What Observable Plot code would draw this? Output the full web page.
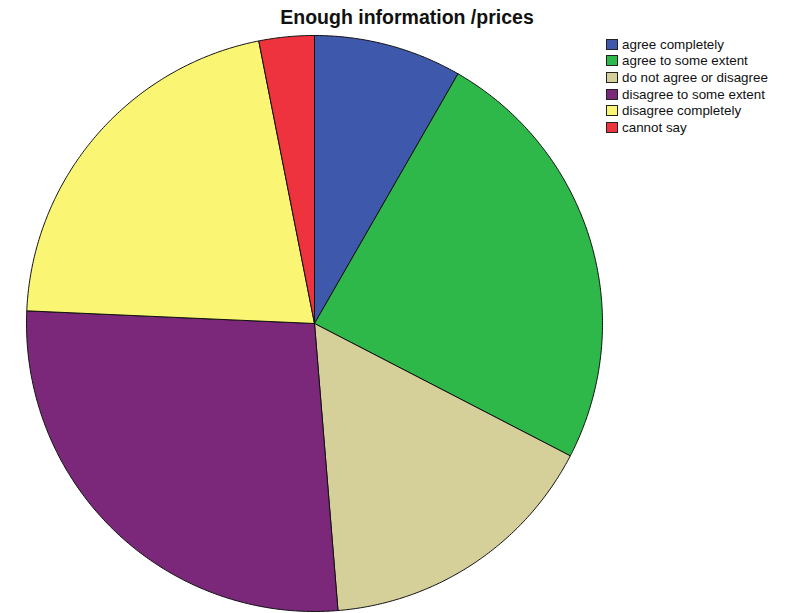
<!DOCTYPE html>
<html>
<head>
<meta charset="utf-8">
<script src="https://cdn.jsdelivr.net/npm/d3@7"></script>
<script src="https://cdn.jsdelivr.net/npm/@observablehq/plot@0.6"></script>
<style>
  html, body { margin: 0; padding: 0; background: #fff; }
  #wrap { position: relative; width: 792px; height: 613px; overflow: hidden; font-family: "Liberation Sans", Arial, sans-serif; }
  #title { position: absolute; left: 0; width: 814px; top: 6px; text-align: center; font-weight: bold; font-size: 19.5px; color: #111; }
  #legend { position: absolute; left: 606px; top: 36px; font-size: 13.4px; color: #111; }
  .row { display: flex; align-items: center; height: 16.6px; }
  .sw { width: 12px; height: 11px; border: 1px solid #222; margin-right: 4px; box-sizing: border-box; }
  #chart { position: absolute; left: 0; top: 0; }
</style>
</head>
<body>
<div id="wrap">
  <div id="chart"></div>
  <div id="title">Enough information /prices</div>
  <div id="legend"></div>
</div>
<script>
const categories = ["agree completely", "agree to some extent", "do not agree or disagree", "disagree to some extent", "disagree completely", "cannot say"];
const values = [8.3, 24.3, 16.1, 27.0, 21.2, 3.1];
const colors = ["#3e58ac", "#2fb84a", "#d5cf9a", "#7b287b", "#faf573", "#ee333e"];

// build slice outlines (unit circle, clockwise from top)
const total = d3.sum(values);
const pts = [];
let acc = 0;
categories.forEach((c, i) => {
  const a0 = acc / total * 2 * Math.PI;
  acc += values[i];
  const a1 = acc / total * 2 * Math.PI;
  pts.push({cat: c, x: 0, y: 0});
  const n = Math.max(2, Math.ceil((a1 - a0) / (Math.PI / 360)));
  for (let k = 0; k <= n; k++) {
    const a = a0 + (a1 - a0) * k / n;
    pts.push({cat: c, x: Math.sin(a), y: Math.cos(a)});
  }
  pts.push({cat: c, x: 0, y: 0});
});

const chart = Plot.plot({
  width: 792,
  height: 613,
  marginLeft: 26,
  marginRight: 190,
  marginTop: 35,
  marginBottom: 2,
  x: {domain: [-1, 1], axis: null},
  y: {domain: [-1, 1], axis: null},
  color: {domain: categories, range: colors},
  marks: [
    Plot.line(pts, {x: "x", y: "y", z: "cat", fill: "cat", stroke: "#111", strokeWidth: 1, strokeLinejoin: "round"})
  ]
});
document.getElementById("chart").appendChild(chart);

const leg = document.getElementById("legend");
categories.forEach((c, i) => {
  const r = document.createElement("div");
  r.className = "row";
  r.innerHTML = `<div class="sw" style="background:${colors[i]}"></div><span>${c}</span>`;
  leg.appendChild(r);
});
</script>
</body>
</html>
